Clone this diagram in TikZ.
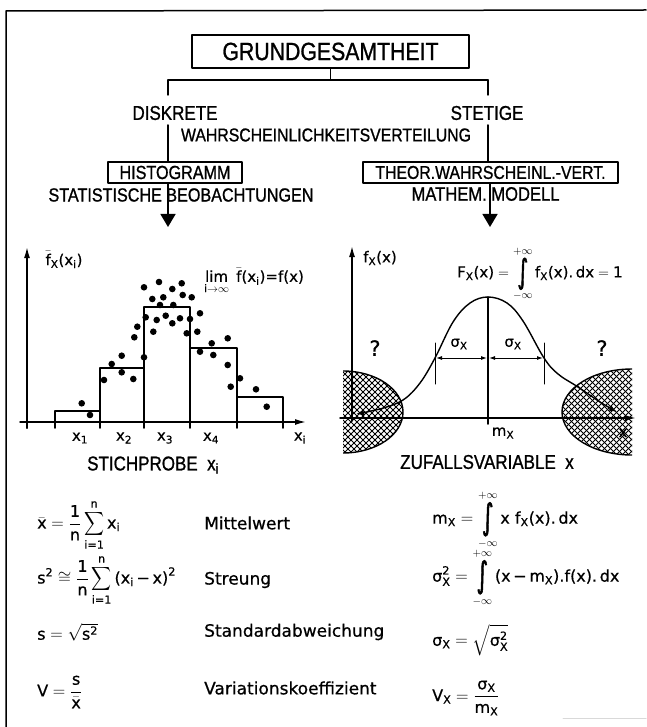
\documentclass[tikz,border=0pt]{standalone}
\usepackage{amsmath}
\usepackage{graphicx}
\usepackage{fontspec}
\setmainfont[FakeBold=0.6]{DejaVu Sans}
\newfontfamily\capfam[FakeStretch=0.85,FakeBold=1]{Liberation Sans}
\newfontfamily\intfam[FakeBold=2]{DejaVu Sans}
\usetikzlibrary{arrows.meta}
\newcommand{\mytx}[1]{\text{#1}}
\newcommand{\capsz}[1]{\capfam\fontsize{#1}{#1}\selectfont}
\newcommand{\lowsz}[1]{\fontsize{#1}{#1}\selectfont}
\newcommand{\myint}{\mathop{\vcenter{\hbox{\scalebox{1.4}[2.2]{\intfam ∫}}}}\limits}
\newcommand{\mysum}{\mathop{\vcenter{\hbox{\scalebox{0.8}[0.95]{$\displaystyle\sum$}}}}\limits}
\tikzset{
  frame/.style={line width=1.5pt},
  conn/.style={line width=1.5pt},
  capbox/.style={draw, line width=1.5pt, inner sep=0pt},
  captext/.style={inner sep=1pt},
  axis/.style={line width=1.5pt},
  bar/.style={line width=1.5pt},
  curve/.style={line width=1.4pt},
  thinl/.style={line width=1pt},
  hatch/.style={line width=0.8pt},
  hatchedge/.style={line width=1.4pt},
  dot/.style={fill=black},
  lbl/.style={inner sep=1pt, font=\lowsz{15}},
  frm/.style={inner sep=1pt, anchor=west, font=\lowsz{16}},
  txt/.style={inner sep=1pt, anchor=west, font=\lowsz{17}},
  ax/.style={-{Latex[length=11pt,width=6pt]}},
  sig/.style={{Latex[length=6pt,width=4pt]}-{Latex[length=6pt,width=4pt]}, line width=1pt},
}
\begin{document}
\begin{tikzpicture}[x=1pt,y=-1pt,line cap=round,line join=round]
\useasboundingbox[fill=white] (0,0) rectangle (646,727);
% frame
\coordinate (fBL) at (6,727);
\coordinate (fTL) at (6,11);
\coordinate (fTR) at (646,10);
\draw[frame] (fBL) -- (fTL) -- (fTR);
\coordinate (fr1) at (563,718);
\coordinate (fr2) at (646,718);
\draw[gray!30, line width=1pt] (fr1) -- (fr2);

% tree
\node[capbox, minimum width=277pt, minimum height=33pt] (g) at (330.5,51.5) {\capsz{25}GRUNDGESAMTHEIT};
\coordinate (jL) at (168,80);
\coordinate (jR) at (488,80);
\draw[conn] (g.south) -- (g.south |- jL);
\draw[conn] (jL) -- (jR);
\coordinate (dTop) at (168,95);
\coordinate (sTop) at (488,95);
\draw[conn] (jL) -- (dTop);
\draw[conn] (jR) -- (sTop);
\node[captext] (d) at (175,113) {\capsz{20}DISKRETE};
\node[captext] (s) at (487,113) {\capsz{20}STETIGE};
\node[captext] (w) at (326,135) {\capsz{18.6}WAHRSCHEINLICHKEITSVERTEILUNG};
\node[capbox, minimum width=134pt, minimum height=21pt] (h) at (175,172.5) {\capsz{19}HISTOGRAMM};
\node[capbox, minimum width=255pt, minimum height=21pt] (t) at (490.5,172.5) {\capsz{18.6}THEOR.WAHRSCHEINL.-VERT.};
\coordinate (bL) at (168,125);
\coordinate (bR) at (488,125);
\draw[conn] (bL) -- (bL |- h.north);
\draw[conn] (bR) -- (bR |- t.north);
\node[captext] (sb) at (181,195) {\capsz{19}STATISTISCHE BEOBACHTUNGEN};
\node[captext] (mm) at (485.5,194) {\capsz{19.5}MATHEM. MODELL};
\coordinate (aL) at (168,227);
\coordinate (aR) at (490,227);
\draw[conn, -{Triangle[length=13pt,width=15pt]}] (aL |- h.south) -- (aL);
\draw[conn, -{Triangle[length=13pt,width=15pt]}] (aR |- t.south) -- (aR);

% left chart: histogram
\foreach \x/\xr/\tp in {55/100/411,100/144/368,144/190/307,190/237/348,237/283/397}{
  \draw[bar] (\x,422) rectangle (\xr,\tp);
}
\foreach \x in {27,55,100,144,190,237,283}{\draw[axis] (\x,422) -- (\x,428);}
\draw[axis, ax] (27,428) -- (27,247);
\draw[axis, ax] (20,422) -- (306,422);
\foreach \p in {(81.7,403.3),(90,415),(104,380),(111.7,364),(121.7,355.7),(121.7,372.3),(133.3,379),(144,357.3),(134.3,337.3),(137.3,326.7),(145.7,317.3),(153.3,331.7),(156.7,320),(165.7,315.7),(172.3,323.3),(180,318.3),(152.3,299),(163.3,297.3),(160,305),(173.3,305),(144,287.3),(159,282),(172.3,289),(181.7,283.3),(182.7,295),(191.7,297.3),(190,319),(200,313.3),(186.7,333.3),(197.3,331.7),(211.7,343.3),(227.7,338.3),(200,351.7),(213.3,355),(227.7,365),(240,378.3),(230.7,386.7),(256,389.3),(266.7,406.7)}{
  \fill[dot] \p circle (3.3pt);
}
\node[lbl] (fxl) at (64,260) {$\bar{\mytx{f}}_{\mytx{X}}\mytx{(x}_{\mytx{i}}\mytx{)}$};
\node[lbl, anchor=west] (lim) at (203,281) {$\mathop{\mytx{lim}}\limits_{\mytx{i}\to\infty}\ \bar{\mytx{f}}\mytx{(x}_{\mytx{i}}\mytx{)=f(x)}$};
\node[lbl] (x1) at (80,438) {$\mytx{x}_{\mytx{1}}$};
\node[lbl] (x2) at (124,438) {$\mytx{x}_{\mytx{2}}$};
\node[lbl] (x3) at (165,438) {$\mytx{x}_{\mytx{3}}$};
\node[lbl] (x4) at (211,438) {$\mytx{x}_{\mytx{4}}$};
\node[lbl] (xi) at (300,438) {$\mytx{x}_{\mytx{i}}$};
\node[captext] (sp) at (153,465) {\capsz{20}STICHPROBE\ \ $\mytx{x}_{\mytx{i}}$};

% right chart: hatched tails
\begin{scope}
  \clip (343,360) rectangle (420,470);
  \clip (343,412) ellipse [x radius=60pt, y radius=41pt];
  \foreach \k in {-125,-119,...,60}{\draw[hatch] (\k+360,360) -- (\k+470,470);}
  \foreach \k in {695,701,...,885}{\draw[hatch] (\k-360,360) -- (\k-470,470);}
\end{scope}
\begin{scope}
  \clip (343,360) rectangle (420,470);
  \draw[hatchedge] (343,412) ellipse [x radius=60pt, y radius=41pt];
\end{scope}
\begin{scope}
  \clip (550,360) rectangle (632,470);
  \clip (632,412) ellipse [x radius=70pt, y radius=43pt];
  \foreach \k in {90,96,...,280}{\draw[hatch] (\k+360,360) -- (\k+470,470);}
  \foreach \k in {915,921,...,1105}{\draw[hatch] (\k-360,360) -- (\k-470,470);}
\end{scope}
\begin{scope}
  \clip (550,360) rectangle (632,470);
  \draw[hatchedge] (632,412) ellipse [x radius=70pt, y radius=43pt];
\end{scope}

\draw[axis, ax] (352,421) -- (352,246);
\draw[axis, ax] (340,418) -- (636,418);
\coordinate (peak) at (488,297);
\coordinate (mfoot) at (488,424);
\draw[axis] (peak) -- (mfoot);
\draw[curve, {Latex[length=8pt,width=6pt]}-{Latex[length=8pt,width=6pt]}] plot[smooth, tension=0.6] coordinates {(356,414) (380,409) (403,400) (420,383) (435,358) (453,322) (470,303) (488,297) (507,303) (523,321) (544,358) (558,374) (578,387) (600,402) (617,412)};
\coordinate (iL1) at (435,343); \coordinate (iL2) at (435,384);
\coordinate (iR1) at (544,343); \coordinate (iR2) at (544,384);
\draw[thinl] (iL1) -- (iL2);
\draw[thinl] (iR1) -- (iR2);
\draw[sig] (436,358) -- (487,358);
\draw[sig] (489,358) -- (543,358);
\node[lbl] (sgl) at (459,344) {$\mytx{σ}_{\mytx{X}}$};
\node[lbl] (sgr) at (513,344) {$\mytx{σ}_{\mytx{X}}$};
\node[inner sep=0pt, font=\lowsz{21}] (q1) at (375,348) {?};
\node[inner sep=0pt, font=\lowsz{21}] (q2) at (602,348) {?};
\node[lbl] (fxr) at (380,258) {$\mytx{f}_{\mytx{X}}\mytx{(x)}$};
\node[lbl, anchor=west] (Fx) at (456,274) {$\displaystyle\mytx{F}_{\mytx{X}}\mytx{(x)}=\myint_{-\infty}^{+\infty}\mytx{f}_{\mytx{X}}\mytx{(x).\,dx}=\mytx{1}$};
\node[lbl] (mx) at (503,433) {$\mytx{m}_{\mytx{X}}$};
\node[lbl] (xx) at (623,433) {x};
\node[captext] (zv) at (487,462) {\capsz{20}ZUFALLSVARIABLE\ \ x};

% formulas
\node[frm] (L1) at (36,525) {$\displaystyle\bar{\mytx{x}} = \frac{\mytx{1}}{\mytx{n}}\mysum_{\mytx{i=1}}^{\mytx{n}}\mytx{x}_{\mytx{i}}$};
\node[frm] (L2) at (36,580) {$\displaystyle\mytx{s}^{\mytx{2}} \cong \frac{\mytx{1}}{\mytx{n}}\mysum_{\mytx{i=1}}^{\mytx{n}}\mytx{(x}_{\mytx{i}}\mytx{\,−\,x)}^{\mytx{2}}$};
\node[frm] (L3) at (36,632) {$\mytx{s} = \sqrt{\mytx{s}^{\mytx{2}}}$};
\node[frm] (L4) at (36,692) {$\mytx{V} = \dfrac{\mytx{s}}{\bar{\mytx{x}}}$};
\node[txt] (T1) at (203,523) {Mittelwert};
\node[txt] (T2) at (203,580) {Streung};
\node[txt] (T3) at (203,632) {Standardabweichung};
\node[txt] (T4) at (203,688) {Variationskoeffizient};
\node[frm] (R1) at (431,520) {$\displaystyle\mytx{m}_{\mytx{X}} = \myint_{-\infty}^{+\infty}\mytx{x f}_{\mytx{X}}\mytx{(x).\,dx}$};
\node[frm] (R2) at (431,578) {$\displaystyle\mytx{σ}_{\mytx{X}}^{\mytx{2}} = \myint_{-\infty}^{+\infty}\mytx{(x\,−\,m}_{\mytx{X}}\mytx{).f(x).\,dx}$};
\node[frm] (R3) at (431,640) {$\mytx{σ}_{\mytx{X}} = \sqrt{\mytx{σ}_{\mytx{X}}^{\mytx{2}}}$};
\node[frm] (R4) at (431,698) {$\displaystyle\mytx{V}_{\mytx{X}} = \frac{\mytx{σ}_{\mytx{X}}}{\mytx{m}_{\mytx{X}}}$};
\end{tikzpicture}
\end{document}
